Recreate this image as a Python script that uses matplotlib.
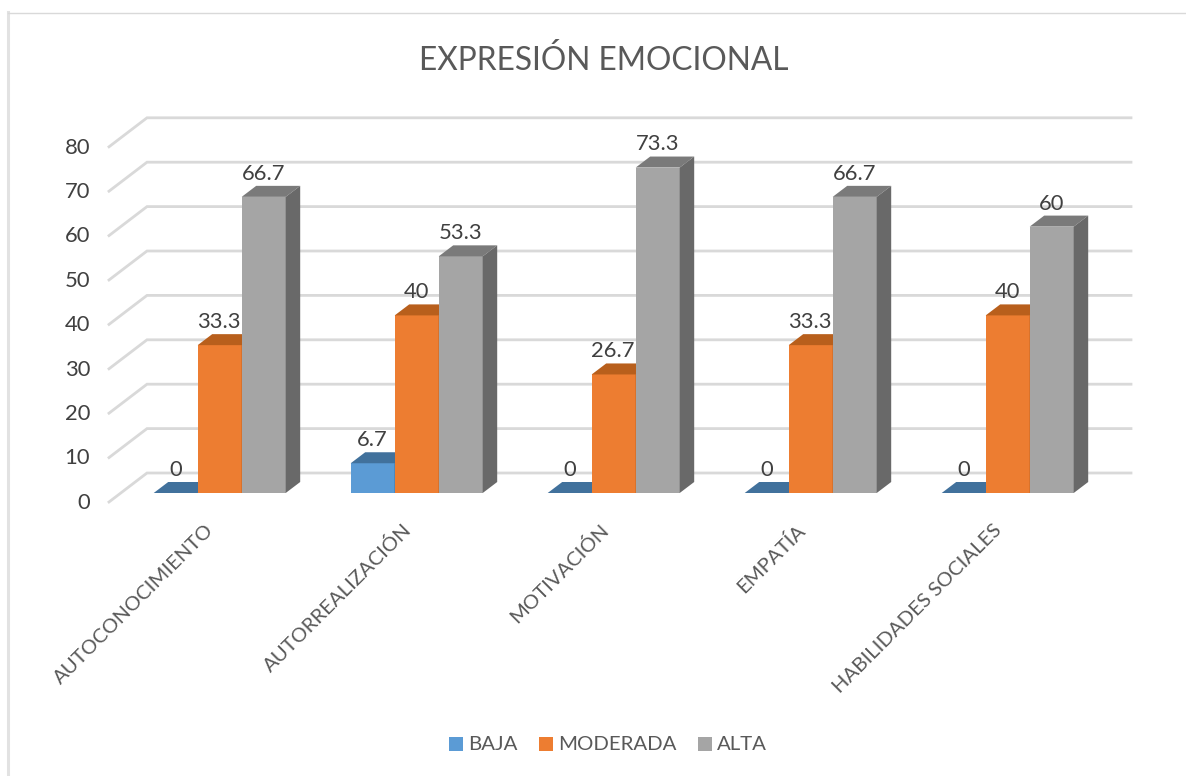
import matplotlib
matplotlib.use('Agg')
import matplotlib.pyplot as plt
from matplotlib.patches import Polygon

categories = ['AUTOCONOCIMIENTO', 'AUTORREALIZACIÓN', 'MOTIVACIÓN', 'EMPATÍA', 'HABILIDADES SOCIALES']
baja = [0, 6.7, 0, 0, 0]
moderada = [33.3, 40, 26.7, 33.3, 40]
alta = [66.7, 53.3, 73.3, 66.7, 60]
yticks = [0, 10, 20, 30, 40, 50, 60, 70, 80]

plt.rcParams['font.family'] = ['Lato', 'DejaVu Sans']

W, H = 1186, 776
PX_X = 197.0       # pixels per category
PX_Y = 4.44        # pixels per value unit
X0, Y0 = 219.7, 493.0

fig = plt.figure(figsize=(W / 100, H / 100), dpi=100)
ax = fig.add_axes([0, 0, 1, 1])
ax.set_xlim(-X0 / PX_X, (W - X0) / PX_X)
ax.set_ylim((Y0 - H) / PX_Y, Y0 / PX_Y)
ax.axis('off')

bw = 44 / PX_X
dx = 14.5 / PX_X   # bar depth
dy = 11 / PX_Y
wall_dy = 20 / PX_Y
left = (109 - X0) / PX_X
back_left = (147 - X0) / PX_X
back_right = (1131 - X0) / PX_X
front_dy = -9 / PX_Y

# frame: only the top and left edges show in the source
fx = (7.5 - X0) / PX_X
ax.plot([fx, fx], [(Y0 - 776) / PX_Y, (Y0 - 12) / PX_Y], color='#e2e2e2', lw=2.2, zorder=0)
ax.plot([fx, (W - X0) / PX_X], [(Y0 - 12.5) / PX_Y, (Y0 - 12.5) / PX_Y], color='#d9d9d9', lw=1, zorder=0)

# gridlines on the wall
for v in yticks:
    ax.plot([left, back_left, back_right], [v + front_dy, v + wall_dy, v + wall_dy],
            color='#d9d9d9', lw=2, solid_joinstyle='miter', zorder=1)
    ax.text(left - 19 / PX_X, v + front_dy - 0.2, str(v), ha='right', va='center',
            fontsize=15.8, color='#404040', zorder=6)

series = [
    ('BAJA', baja, -1, '#5b9bd5', '#41719c', '#2e5f8a'),
    ('MODERADA', moderada, 0, '#ed7d31', '#b85f1c', '#ad5b20'),
    ('ALTA', alta, 1, '#a5a5a5', '#7a7a7a', '#696969'),
]

for i in range(len(categories)):
    for name, vals, off, col, top, side in series:
        v = vals[i]
        xc = i + off * bw
        xl, xr = xc - bw / 2, xc + bw / 2
        z = 3 + off * 0.1
        ax.bar(xc, v, bw, color=col, zorder=z)
        ax.add_patch(Polygon([(xl, v), (xr, v), (xr + dx, v + dy), (xl + dx, v + dy)],
                             fc=top, ec='none', zorder=z))
        ax.add_patch(Polygon([(xr, 0), (xr + dx, dy), (xr + dx, v + dy), (xr, v)],
                             fc=side, ec='none', zorder=z))
        ax.text(xc - 0.5 / PX_X, v + 2.95, str(v), ha='center', va='bottom', fontsize=15.8,
                color='#404040', zorder=6)
    ax.text(i - 14.5 / PX_X, -6.3, categories[i], rotation=45, rotation_mode='anchor',
            ha='right', va='top', fontsize=14.6, color='#595959', zorder=6)

ax.text((603.5 - X0) / PX_X, (Y0 - 60) / PX_Y, 'EXPRESIÓN EMOCIONAL', ha='center', va='center',
        fontsize=22.8, color='#595959')

# legend
leg_y = (Y0 - 744) / PX_Y
for (name, vals, off, col, top, side), sx, tx in zip(series, [449, 539, 698], [468, 558, 717]):
    ax.bar((sx + 7 - X0) / PX_X, 14 / PX_Y, 14 / PX_X, bottom=leg_y - 7 / PX_Y, color=col)
    ax.text((tx - X0) / PX_X, leg_y, name, ha='left', va='center', fontsize=14.7, color='#595959')

fig.savefig('out.png', dpi=100)
